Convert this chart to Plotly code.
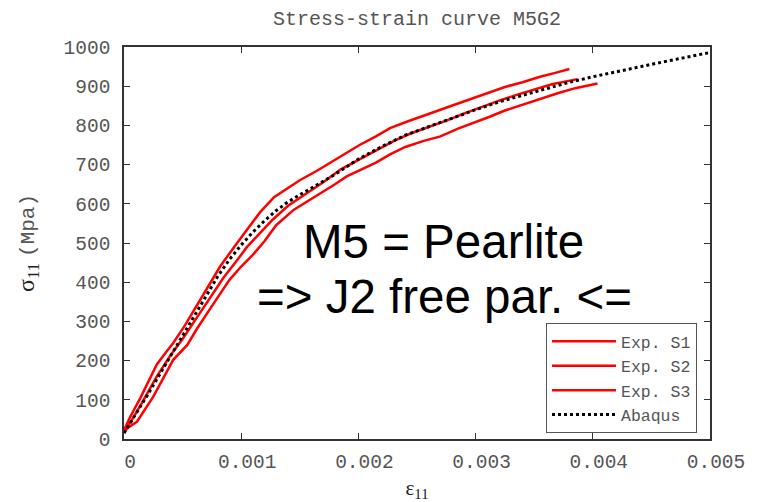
import plotly.graph_objects as go

# ---- data ----
s1_eps = [0.0, 0.00005, 0.00014, 0.00028, 0.00036, 0.00042, 0.00052, 0.00062, 0.00072, 0.00082,
          0.00094, 0.00105, 0.00116, 0.00128, 0.00140, 0.00150, 0.00165, 0.00176, 0.00190, 0.00201,
          0.00215, 0.00227, 0.00240, 0.00255, 0.00270, 0.00285, 0.00300, 0.00312, 0.00325, 0.00340,
          0.00355, 0.00368, 0.00380]
s1_sig = [22, 55, 105, 190, 222, 245, 290, 340, 392, 440,
          490, 533, 578, 617, 640, 660, 685, 705, 730, 750,
          772, 793, 808, 825, 840, 856, 872, 886, 898, 910,
          924, 934, 944]

s2_eps = [0.0, 0.00006, 0.00015, 0.00028, 0.00040, 0.00050, 0.00060, 0.00072, 0.00085, 0.00095,
          0.00105, 0.00116, 0.00127, 0.00140, 0.00155, 0.00170, 0.00185, 0.00200, 0.00215, 0.00230,
          0.00245, 0.00260, 0.00275, 0.00290, 0.00305, 0.00320, 0.00335, 0.00350, 0.00365, 0.00387]
s2_sig = [20, 45, 90, 160, 215, 255, 300, 355, 412, 450,
          490, 525, 560, 595, 625, 655, 688, 712, 737, 760,
          780, 795, 812, 830, 847, 863, 878, 892, 905, 918]

s3_eps = [0.0, 0.00004, 0.00011, 0.00018, 0.00025, 0.00034, 0.00042, 0.00054, 0.00062, 0.00071,
          0.00080, 0.00090, 0.00100, 0.00110, 0.00120, 0.00130, 0.00145, 0.00156, 0.00170, 0.00180,
          0.00190, 0.00201, 0.00215, 0.00227, 0.00240, 0.00255, 0.00270, 0.00285, 0.00300, 0.00312,
          0.00325, 0.00340, 0.00355, 0.00370, 0.00385, 0.00404]
s3_sig = [18, 30, 44, 75, 108, 158, 202, 240, 280, 321,
          362, 406, 440, 470, 505, 546, 585, 605, 630, 650,
          670, 686, 705, 726, 745, 760, 772, 792, 808, 822,
          838, 853, 869, 882, 895, 907]

abq_eps = [0.0, 0.0002, 0.0004, 0.0006, 0.0008, 0.0009, 0.0010, 0.0011, 0.0012, 0.0013,
           0.0014, 0.0015, 0.0016, 0.0018, 0.0020, 0.0022, 0.0024, 0.0026, 0.0028, 0.0030,
           0.0032, 0.0034, 0.0036, 0.0038, 0.0040, 0.0042, 0.0044, 0.0046, 0.0048, 0.0050]
abq_sig = [15, 112, 213, 315, 415, 458, 495, 528, 557, 583,
           605, 623, 640, 675, 714, 746, 775, 797, 818, 840,
           860, 877, 894, 910, 924, 937, 950, 962, 974, 986]

x_ticks = [0, 0.001, 0.002, 0.003, 0.004, 0.005]
x_ticktext = ["0", "0.001", "0.002", "0.003", "0.004", "0.005"]
y_ticks = [0, 100, 200, 300, 400, 500, 600, 700, 800, 900, 1000]
y_ticktext = [str(v) for v in y_ticks]

series_names = ["Exp. S1", "Exp. S2", "Exp. S3", "Abaqus"]

MONO = "Liberation Mono, Courier New, monospace"
GREY = "#555555"

fig = go.Figure()
for name, ex, sy in zip(series_names[:3], [s1_eps, s2_eps, s3_eps], [s1_sig, s2_sig, s3_sig]):
    fig.add_trace(go.Scatter(x=ex, y=sy, mode="lines", name=name,
                             line=dict(color="#ff0000", width=2.5)))
fig.add_trace(go.Scatter(x=abq_eps, y=abq_sig, mode="lines", name=series_names[3],
                         line=dict(color="#000000", width=3, dash="dot")))

axis_common = dict(showline=True, linecolor="#333333", linewidth=1.5, mirror="ticks",
                   ticks="inside", ticklen=6, tickcolor="#333333", tickwidth=1.2,
                   showgrid=False, zeroline=False, automargin=False,
                   tickfont=dict(family=MONO, size=19.5, color=GREY))

fig.update_layout(
    width=758, height=502,
    margin=dict(l=124, r=48, t=47, b=63),
    paper_bgcolor="white", plot_bgcolor="white",
    title=dict(text="Stress-strain curve M5G2", x=(124 + 586 / 2) / 758, xanchor="center",
               y=1 - 18 / 502, yanchor="middle",
               font=dict(family=MONO, size=20, color=GREY)),
    xaxis=dict(range=[0, 0.005], tickvals=x_ticks, ticktext=x_ticktext,
               ticklabelshift=6, ticklabelstandoff=4,
               title=dict(text="ε<sub>11</sub>", standoff=12,
                          font=dict(family="Liberation Serif", size=21, color="#222222")),
               **axis_common),
    yaxis=dict(range=[0, 1000], tickvals=y_ticks, ticktext=y_ticktext,
               ticklabelstandoff=8,
               title=dict(text="σ<sub>11</sub> <span style='font-family:Liberation Mono;font-size:21px;fill:#555555'>(Mpa)</span>",
                          standoff=22,
                          font=dict(family="Liberation Serif", size=24, color="#222222")),
               **axis_common),
    legend=dict(x=(697 - 124) / 586, xanchor="right", y=(439 - 433) / 392, yanchor="bottom",
                bgcolor="white", bordercolor="#555555", borderwidth=1,
                font=dict(family=MONO, size=16.5, color=GREY),
                tracegroupgap=0, itemwidth=64),
    showlegend=True,
)

fig.add_annotation(text="M5 = Pearlite", xref="paper", yref="paper",
                   x=(443.5 - 124) / 586, y=(439 - 241) / 392, xanchor="center", yanchor="middle",
                   showarrow=False, font=dict(family="Liberation Sans, Arial", size=47.5, color="black"))
fig.add_annotation(text="=> J2 free par. <=", xref="paper", yref="paper",
                   x=(444 - 124) / 586, y=(439 - 296) / 392, xanchor="center", yanchor="middle",
                   showarrow=False, font=dict(family="Liberation Sans, Arial", size=47.5, color="black"))

fig.write_html("out.html")
